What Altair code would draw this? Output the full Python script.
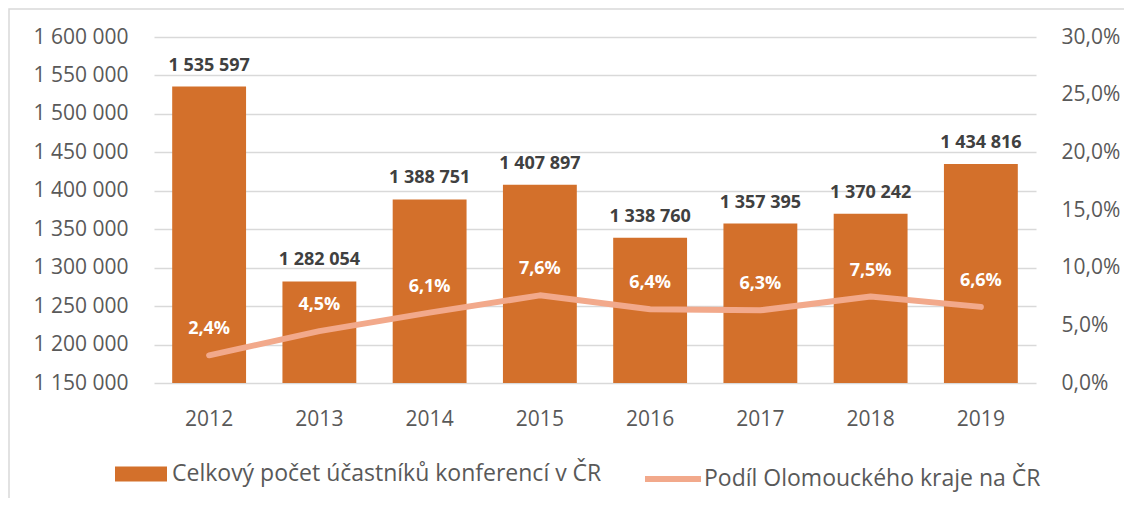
import altair as alt
import pandas as pd

years = ["2012", "2013", "2014", "2015", "2016", "2017", "2018", "2019"]
participants = [1535597, 1282054, 1388751, 1407897, 1338760, 1357395, 1370242, 1434816]
olomouc_share = [0.024, 0.045, 0.061, 0.076, 0.064, 0.063, 0.075, 0.066]
left_ticks = [1150000, 1200000, 1250000, 1300000, 1350000, 1400000, 1450000, 1500000, 1550000, 1600000]
right_ticks = [0.0, 0.05, 0.10, 0.15, 0.20, 0.25, 0.30]
bar_series = "Celkový počet účastníků konferencí v ČR"
line_series = "Podíl Olomouckého kraje na ČR"

BAR_COLOR = "#D3702B"
LINE_COLOR = "#F2A98B"
TEXT_GRAY = "#595959"
FONT = "Open Sans"

df = pd.DataFrame({
    "year": years,
    "total": participants,
    "share": olomouc_share,
    "s1": bar_series,
    "s2": line_series,
})

xenc = alt.X(
    "year:N",
    sort=years,
    scale=alt.Scale(paddingInner=0.33, paddingOuter=0.165),
    axis=alt.Axis(title=None, labelAngle=0, domain=False, ticks=False,
                  labelPadding=25, labelFontSize=21, labelColor=TEXT_GRAY,
                  labelFont=FONT),
)

base = alt.Chart(df).encode(x=xenc)

frame = alt.Chart(pd.DataFrame({"k": [0]})).mark_rect(
    fill="white", fillOpacity=0, stroke="#D9D9D9", strokeWidth=1.5
).encode(
    x=alt.value(-145), x2=alt.value(2000), y=alt.value(-28), y2=alt.value(1000)
)

yleft_scale = alt.Scale(domain=[1150000, 1600000], zero=False, nice=False)

bars = base.mark_bar(clip=True).encode(
    y=alt.Y("total:Q", scale=yleft_scale,
            axis=alt.Axis(title=None, values=left_ticks, tickCount=20, format=",.0f",
                          orient="left", domain=False, ticks=False, grid=True,
                          gridColor="#D9D9D9", gridWidth=1.5, labelPadding=26,
                          labelFontSize=21, labelOverlap=False, labelBound=False,
                          labelColor=TEXT_GRAY, labelFont=FONT)),
    y2=alt.Y2(datum=1150000),
    fill=alt.Fill("s1:N", scale=alt.Scale(domain=[bar_series], range=[BAR_COLOR]),
                  legend=alt.Legend(title=None, orient="none", legendX=-39, legendY=411,
                                    symbolType="M-1,-0.29H1V0.29H-1Z", symbolSize=2704,
                                    symbolStrokeWidth=0, labelFontSize=23,
                                    labelColor=TEXT_GRAY, labelFont=FONT,
                                    labelOffset=5, labelLimit=0)),
)

bar_labels = base.mark_text(
    fontSize=18, fontWeight="bold", color="#404040", baseline="alphabetic",
    dy=-16, font=FONT
).encode(
    y=alt.Y("total:Q", scale=yleft_scale),
    text=alt.Text("total:Q", format=",.0f"),
)

yright_scale = alt.Scale(domain=[0, 0.30], nice=False)

line = base.mark_line(strokeWidth=6, strokeCap="round", strokeJoin="round").encode(
    y=alt.Y("share:Q", scale=yright_scale,
            axis=alt.Axis(title=None, values=right_ticks, tickCount=20, format=".1%",
                          orient="right", domain=False, ticks=False, grid=False,
                          labelPadding=25, labelOverlap=False, labelBound=False,
                          labelFontSize=21, labelColor=TEXT_GRAY, labelFont=FONT)),
    stroke=alt.Stroke("s2:N", scale=alt.Scale(domain=[line_series], range=[LINE_COLOR]),
                      legend=alt.Legend(title=None, orient="none", legendX=488, legendY=411,
                                        symbolType="stroke", symbolSize=3136,
                                        symbolStrokeWidth=6, labelFontSize=23,
                                        labelColor=TEXT_GRAY, labelFont=FONT,
                                        labelOffset=0, labelLimit=0)),
)

pct_labels = base.mark_text(
    fontSize=18, fontWeight="bold", color="white", baseline="alphabetic",
    dy=-21, font=FONT
).encode(
    y=alt.Y("share:Q", scale=yright_scale),
    text=alt.Text("share:Q", format=".1%"),
)

left = alt.layer(bars, bar_labels)
right = alt.layer(line, pct_labels)

chart = alt.layer(frame, left, right).resolve_scale(
    y="independent", fill="independent", stroke="independent"
).properties(
    width=882, height=346,
    autosize=alt.AutoSizeParams(type="none"),
    padding={"left": 146, "top": 29, "right": 88, "bottom": 115},
).configure(
    font=FONT,
    locale=alt.Locale(number=alt.NumberLocale(decimal=",", thousands=" ",
                                              grouping=[3], currency=["", " Kč"])),
).configure_view(stroke=None)

chart.save("out.html", embed_options={"renderer": "svg", "actions": False})
